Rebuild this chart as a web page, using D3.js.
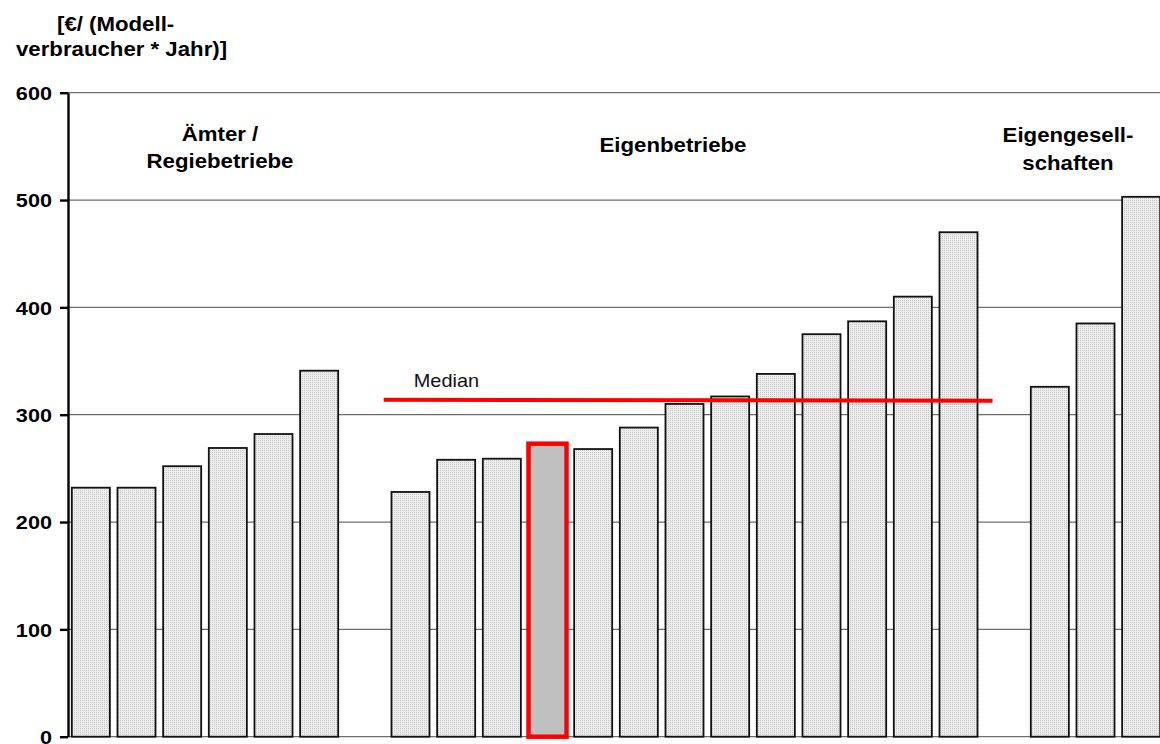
<!DOCTYPE html>
<html>
<head>
<meta charset="utf-8">
<script src="https://cdn.jsdelivr.net/npm/d3@7"></script>
<style>
  html, body { margin: 0; padding: 0; background: #fff; }
  svg { display: block; font-family: Arial, 'Liberation Sans', sans-serif; }
</style>
</head>
<body>
<svg id="chart" width="1160" height="744"></svg>
<script>
(function () {
  'use strict';

  // ── Data ────────────────────────────────────────────────────────────────────
  var amterValues = [232, 232, 252, 269, 282, 341];
  var eigenbetriebValues = [228, 258, 259, 273, 268, 288, 310, 317, 338, 375, 387, 410, 470];
  var gesellschaftValues = [326, 385, 503];
  var highlightIndex = 3;            // own utility inside "Eigenbetriebe"
  var medianValues = [314, 313];     // drawn line, start / end
  var yTicks = [0, 100, 200, 300, 400, 500, 600];
  var groupLabels = [['Ämter /', 'Regiebetriebe'], ['Eigenbetriebe'], ['Eigengesell-', 'schaften']];
  var axisTitle = ['[€/ (Modell-', 'verbraucher * Jahr)]'];

  // one slot per bar, plus an empty slot between the groups
  var bars = [];
  amterValues.forEach(function (v, i) { bars.push({ id: 'A' + i, value: v }); });
  eigenbetriebValues.forEach(function (v, i) {
    bars.push({ id: 'E' + i, value: v, highlight: i === highlightIndex });
  });
  gesellschaftValues.forEach(function (v, i) { bars.push({ id: 'G' + i, value: v }); });
  var slots = bars.map(function (b) { return b.id; });
  slots.splice(amterValues.length, 0, 'gap1');
  slots.splice(amterValues.length + 1 + eigenbetriebValues.length, 0, 'gap2');

  // ── Scales ──────────────────────────────────────────────────────────────────
  var svg = d3.select('#chart');
  var x = d3.scaleBand().domain(slots).range([68, 1164]).paddingInner(0.167).paddingOuter(0.0835);
  var y = d3.scaleLinear().domain([0, 600]).range([736.7, 92.7]);
  var SX = 1.14; // source text is a little stretched horizontally

  function stretchedText(sel, tx, ty) {
    return sel.attr('transform', 'translate(' + tx + ',' + ty + ') scale(' + SX + ',1)');
  }

  // dotted light grey fill
  var pat = svg.append('defs').append('pattern')
    .attr('id', 'dots').attr('width', 2).attr('height', 2)
    .attr('patternUnits', 'userSpaceOnUse');
  pat.append('rect').attr('width', 2).attr('height', 2).attr('fill', '#ededed');
  pat.append('rect').attr('width', 1).attr('height', 1).attr('fill', '#c8c8c8');

  // ── Grid ────────────────────────────────────────────────────────────────────
  svg.append('g')
    .selectAll('line')
    .data(yTicks)
    .join('line')
    .attr('x1', 68).attr('x2', 1160)
    .attr('y1', function (d) { return y(d); })
    .attr('y2', function (d) { return y(d); })
    .attr('stroke', '#6e6e6e')
    .attr('stroke-width', 1.3);

  // ── Bars ────────────────────────────────────────────────────────────────────
  svg.append('g')
    .selectAll('rect')
    .data(bars)
    .join('rect')
    .attr('x', function (d) { return x(d.id); })
    .attr('width', x.bandwidth())
    .attr('y', function (d) { return y(d.value); })
    .attr('height', function (d) { return y(0) - y(d.value); })
    .attr('fill', function (d) { return d.highlight ? '#c0c0c0' : 'url(#dots)'; })
    .attr('stroke', function (d) { return d.highlight ? '#ff0000' : '#111'; })
    .attr('stroke-width', function (d) { return d.highlight ? 4.5 : 1.8; });

  // ── Median ──────────────────────────────────────────────────────────────────
  var step = x.step();
  var mx1 = x('E0') - 0.17 * step;
  var mx2 = x('E' + (eigenbetriebValues.length - 1)) + x.bandwidth() + 0.33 * step;
  svg.append('line')
    .attr('x1', mx1).attr('x2', mx2)
    .attr('y1', y(medianValues[0])).attr('y2', y(medianValues[1]))
    .attr('stroke', '#ff0000')
    .attr('stroke-width', 4);
  stretchedText(svg.append('text'), mx1 + 30, y(medianValues[0]) - 13)
    .attr('font-size', 17.5)
    .attr('fill', '#111')
    .text('Median');

  // ── Y axis ──────────────────────────────────────────────────────────────────
  var axis = svg.append('g')
    .attr('transform', 'translate(68,0)')
    .call(d3.axisLeft(y).tickValues(yTicks).tickSize(8).tickPadding(10).tickSizeOuter(0));
  axis.select('.domain').attr('stroke', '#000').attr('stroke-width', 2.4);
  axis.selectAll('.tick line').attr('stroke', '#000').attr('stroke-width', 2.4);
  axis.selectAll('.tick text').remove();
  axis.selectAll('.tick').each(function (d) {
    stretchedText(d3.select(this).append('text'), -16, 0)
      .attr('text-anchor', 'end')
      .attr('dy', '0.36em')
      .attr('font-size', 19)
      .attr('font-weight', 'bold')
      .attr('font-family', "Arial, 'Liberation Sans', sans-serif")
      .attr('fill', '#000')
      .text(d);
  });

  // ── Titles ──────────────────────────────────────────────────────────────────
  var boldText = function (label, px, py, anchor) {
    stretchedText(svg.append('text'), px, py)
      .attr('text-anchor', anchor || 'middle')
      .attr('font-size', 19.5)
      .attr('font-weight', 'bold')
      .attr('fill', '#000')
      .text(label);
  };
  boldText(axisTitle[0], 57, 31, 'start');
  boldText(axisTitle[1], 16, 56, 'start');

  var groupPos = [[220, 141, 168], [673, 152], [1068, 142, 170]];
  groupLabels.forEach(function (lines, gi) {
    lines.forEach(function (line, li) {
      boldText(line, groupPos[gi][0], groupPos[gi][li + 1]);
    });
  });
})();
</script>
</body>
</html>
